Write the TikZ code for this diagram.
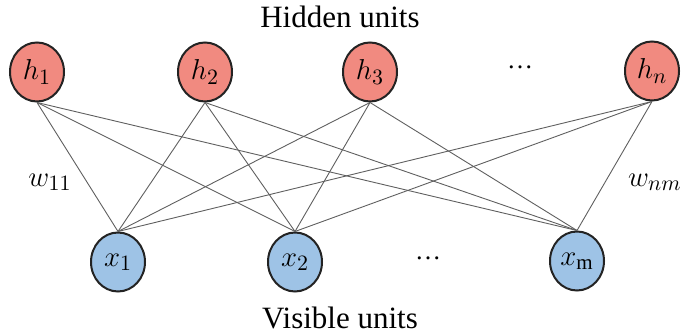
\documentclass[tikz,border=0pt]{standalone}
\usepackage{fontspec}
\setmainfont{Liberation Serif}
\usetikzlibrary{shapes.geometric,positioning}
\definecolor{hidC}{RGB}{241,138,128}
\definecolor{visC}{RGB}{158,195,230}
\definecolor{bordC}{RGB}{35,35,35}
\definecolor{wireC}{RGB}{95,95,95}
\tikzset{
  unit/.style={ellipse, draw=bordC, line width=1pt, fill=#1, inner sep=0pt,
               minimum width=27pt, minimum height=29.5pt, font=\fontsize{15}{17}\selectfont},
  titre/.style={font=\fontsize{15.5}{18}\selectfont},
  wlab/.style={font=\fontsize{15}{17}\selectfont, inner sep=1pt},
  pts/.style={font=\fontsize{13}{15}\selectfont},
  wire/.style={line width=0.45pt, draw=wireC},
}
\begin{document}
\begin{tikzpicture}[x=0.5pt,y=-0.5pt]
    \useasboundingbox (0,0) rectangle (684,335);
    \node[titre] (ht) at (340,17) {Hidden units};
    \node[titre] (vt) at (340,318) {Visible units};
    \node[unit=hidC] (h1) at (37,72) {$h_1$};
    \node[unit=hidC] (h2) at (205,72) {$h_2$};
    \node[unit=hidC] (h3) at (370,72) {$h_3$};
    \node[unit=hidC] (hn) at (652,71) {$h_n$};
    \node[pts] (hd) at (520,67) {\dots};
    \node[unit=visC] (x1) at (118,262) {$x_1$};
    \node[unit=visC] (x2) at (295,262) {$x_2$};
    \node[unit=visC] (xm) at (577,261) {$x_{\mathrm{m}}$};
    \node[pts] (xd) at (428,258) {\dots};
    \node[wlab] (w11) at (50,182) {$w_{11}$};
    \node[wlab, anchor=east] (wnm) at (684,182) {$w_{nm}$};
    \draw[wire](h1.south)--(x1.north); \draw[wire](h1.south)--(x2.north); \draw[wire](h1.south)--(xm.north);
    \draw[wire](h2.south)--(x1.north); \draw[wire](h2.south)--(x2.north); \draw[wire](h2.south)--(xm.north);
    \draw[wire](h3.south)--(x1.north); \draw[wire](h3.south)--(x2.north); \draw[wire](h3.south)--(xm.north);
    \draw[wire](hn.south)--(x1.north); \draw[wire](hn.south)--(x2.north); \draw[wire](hn.south)--(xm.north);
  \end{tikzpicture}
\end{document}
